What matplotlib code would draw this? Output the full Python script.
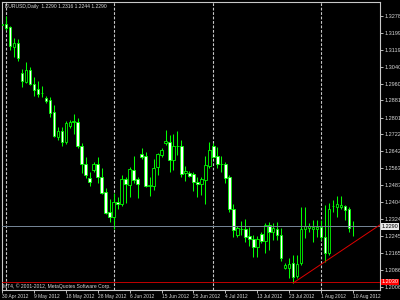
import matplotlib
matplotlib.use('Agg')
import matplotlib.pyplot as plt
from matplotlib.patches import Rectangle
import pandas as pd

# daily bars incl. sunday bars (broker feed), 30 Apr - 10 Aug 2012
dates = pd.date_range('2012-04-30', '2012-08-10')
dates = dates[dates.weekday != 5]

opens = [1.3235, 1.3239, 1.3225, 1.3133, 1.3150, 1.3010, 1.2967, 1.3024, 1.2958, 1.2935,
         1.2917, 1.2894, 1.2883, 1.2827, 1.2709, 1.2738, 1.2686, 1.2761, 1.2780, 1.2780,
         1.2667, 1.2583, 1.2517, 1.2555, 1.2583, 1.2522, 1.2452, 1.2358, 1.2334, 1.2405,
         1.2395, 1.2513, 1.2484, 1.2555, 1.2513, 1.2630, 1.2620, 1.2482, 1.2480, 1.2569,
         1.2625, 1.2681, 1.2686, 1.2602, 1.2668, 1.2667, 1.2541, 1.2541, 1.2536, 1.2498,
         1.2489, 1.2508, 1.2573, 1.2667, 1.2620, 1.2584, 1.2583, 1.2522, 1.2372, 1.2250,
         1.2279, 1.2278, 1.2245, 1.2231, 1.2194, 1.2255, 1.2222, 1.2297, 1.2264, 1.2278,
         1.2250, 1.2095, 1.2095, 1.2119, 1.2058, 1.2119, 1.2278, 1.2283, 1.2278, 1.2278,
         1.2287, 1.2241, 1.2165, 1.2385, 1.2381, 1.2381, 1.2386, 1.2372, 1.2290]
highs = [1.3262, 1.3277, 1.3230, 1.3174, 1.3169, 1.3028, 1.3061, 1.3038, 1.2991, 1.2972,
         1.2949, 1.2902, 1.2897, 1.2860, 1.2756, 1.2756, 1.2785, 1.2789, 1.2817, 1.2799,
         1.2680, 1.2616, 1.2545, 1.2592, 1.2616, 1.2564, 1.2470, 1.2419, 1.2447, 1.2428,
         1.2531, 1.2522, 1.2569, 1.2620, 1.2522, 1.2658, 1.2639, 1.2522, 1.2606, 1.2634,
         1.2658, 1.2742, 1.2719, 1.2724, 1.2738, 1.2695, 1.2573, 1.2550, 1.2545, 1.2522,
         1.2522, 1.2620, 1.2686, 1.2681, 1.2663, 1.2620, 1.2592, 1.2531, 1.2395, 1.2292,
         1.2316, 1.2325, 1.2287, 1.2250, 1.2245, 1.2264, 1.2306, 1.2311, 1.2306, 1.2311,
         1.2283, 1.2119, 1.2142, 1.2156, 1.2156, 1.2381, 1.2381, 1.2306, 1.2320, 1.2320,
         1.2320, 1.2391, 1.2400, 1.2414, 1.2433, 1.2433, 1.2391, 1.2381, 1.2316]
lows = [1.3220, 1.3211, 1.3118, 1.3085, 1.3066, 1.2944, 1.2963, 1.2953, 1.2902, 1.2897,
        1.2897, 1.2869, 1.2803, 1.2709, 1.2695, 1.2667, 1.2677, 1.2752, 1.2724, 1.2658,
        1.2543, 1.2516, 1.2480, 1.2545, 1.2494, 1.2442, 1.2348, 1.2311, 1.2278, 1.2372,
        1.2386, 1.2400, 1.2428, 1.2494, 1.2423, 1.2606, 1.2475, 1.2433, 1.2461, 1.2531,
        1.2616, 1.2672, 1.2545, 1.2555, 1.2625, 1.2522, 1.2503, 1.2522, 1.2456, 1.2428,
        1.2437, 1.2395, 1.2564, 1.2611, 1.2564, 1.2545, 1.2494, 1.2358, 1.2241, 1.2241,
        1.2250, 1.2217, 1.2198, 1.2147, 1.2147, 1.2212, 1.2165, 1.2179, 1.2226, 1.2226,
        1.2128, 1.2090, 1.2048, 1.2025, 1.2048, 1.2109, 1.2236, 1.2264, 1.2217, 1.2241,
        1.2226, 1.2123, 1.2156, 1.2358, 1.2334, 1.2372, 1.2320, 1.2264, 1.2244]
closes = [1.3240, 1.3221, 1.3136, 1.3150, 1.3080, 1.2972, 1.3024, 1.2958, 1.2930, 1.2911,
          1.2915, 1.2878, 1.2822, 1.2714, 1.2738, 1.2686, 1.2775, 1.2780, 1.2785, 1.2667,
          1.2583, 1.2531, 1.2498, 1.2583, 1.2522, 1.2447, 1.2353, 1.2334, 1.2405, 1.2395,
          1.2513, 1.2489, 1.2559, 1.2508, 1.2489, 1.2616, 1.2480, 1.2484, 1.2564, 1.2630,
          1.2648, 1.2691, 1.2602, 1.2667, 1.2666, 1.2536, 1.2550, 1.2527, 1.2498, 1.2489,
          1.2513, 1.2578, 1.2648, 1.2616, 1.2583, 1.2582, 1.2517, 1.2372, 1.2273, 1.2283,
          1.2277, 1.2241, 1.2231, 1.2194, 1.2231, 1.2222, 1.2297, 1.2264, 1.2283, 1.2250,
          1.2142, 1.2109, 1.2114, 1.2053, 1.2114, 1.2278, 1.2292, 1.2292, 1.2287, 1.2287,
          1.2241, 1.2165, 1.2372, 1.2386, 1.2395, 1.2391, 1.2367, 1.2283, 1.2290]

price_ticks = [1.2006, 1.2086, 1.2165, 1.2245, 1.2324, 1.2404, 1.2483, 1.2563, 1.2642,
               1.2722, 1.2801, 1.2881, 1.2960, 1.3040, 1.3119, 1.3199, 1.3278]
bid = 1.2290
red_level = 1.2030
# trend line from the 24 Jul low
trend_p1 = (73, 1.2025)
trend_p2 = (88, 1.2213)

title = "EURUSD,Daily  1.2290 1.2316 1.2244 1.2290"
copyright = "MT4, \u00a9 2001-2012, MetaQuotes Software Corp."

GREEN = '#00ff00'
FG = '#d8d8d8'
plt.rcParams['font.family'] = ['Liberation Sans', 'DejaVu Sans']

fig = plt.figure(figsize=(4, 3), dpi=100, facecolor='black')
ax = fig.add_axes([1.5 / 400, 10 / 300, 378.5 / 400, 288 / 300], facecolor='black')

x0, x1 = -0.1, 94.75
ax.set_xlim(x0, x1)
ax.set_ylim(1.1992, 1.3343)

# month separators
for i, d in enumerate(dates):
    if d.day == 1:
        ax.axvline(i, color='#c8c8c8', lw=0.8, ls=(0, (2.5, 1.5)), zorder=1)

w = 0.62
for i in range(len(dates)):
    o, h, l, c = opens[i], highs[i], lows[i], closes[i]
    ax.vlines(i, l, h, color=GREEN, lw=0.75, zorder=2)
    fc = 'white' if c < o else 'black'
    ax.add_patch(Rectangle((i - w / 2, min(o, c)), w, abs(c - o),
                           facecolor=fc, edgecolor=GREEN, lw=0.6, zorder=3))

ax.axhline(bid, color='#778899', lw=0.7, zorder=4)
ax.axhline(red_level, color='#e00000', lw=0.6, zorder=4)

slope = (trend_p2[1] - trend_p1[1]) / (trend_p2[0] - trend_p1[0])
ax.plot([trend_p1[0], x1], [trend_p1[1], trend_p1[1] + slope * (x1 - trend_p1[0])],
        color='#e00000', lw=0.7, zorder=5)

for s in ax.spines.values():
    s.set_color('#c8c8c8')
    s.set_linewidth(0.8)

ax.yaxis.tick_right()
ax.set_yticks(price_ticks)
ax.set_yticklabels([f"{p:.4f}" for p in price_ticks])
ax.tick_params(axis='y', colors=FG, labelsize=4, length=2, width=0.6, pad=1)

xt = list(range(0, len(dates), 8))
ax.set_xticks(xt)
ax.set_xticklabels([f"{dates[i].day} {dates[i].strftime('%b %Y')}" for i in xt])
ax.tick_params(axis='x', colors=FG, labelsize=3.5, length=2, width=0.6, pad=1)
for lbl in ax.get_xticklabels():
    lbl.set_ha('left')

ytr = ax.get_yaxis_transform()
ax.text(1.004, bid, f"{bid:.4f}", transform=ytr, fontsize=4, color='black', va='center',
        ha='left', bbox=dict(boxstyle='square,pad=0.15', fc='#e8e8e8', ec='none'), clip_on=False)
ax.text(1.004, red_level, f"{red_level:.4f}", transform=ytr, fontsize=4, color='white',
        va='center', ha='left',
        bbox=dict(boxstyle='square,pad=0.15', fc='#ff0000', ec='none'), clip_on=False)

ax.text(0.008, 0.992, title, transform=ax.transAxes, fontsize=3.6, color=FG, va='top', ha='left')
ax.text(0.004, 0.004, copyright, transform=ax.transAxes, fontsize=3.6, color=FG,
        va='bottom', ha='left')

fig.savefig('out.png', dpi=100, facecolor='black')
